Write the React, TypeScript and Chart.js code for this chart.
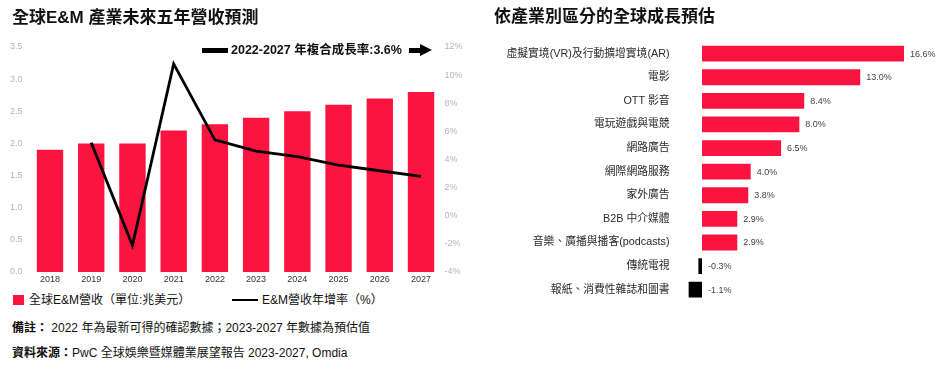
import React, { useEffect, useRef } from "react";
import { Chart, registerables } from "chart.js";

Chart.register(...registerables);

const FONT = '"Liberation Sans", "Noto Sans CJK TC", sans-serif';
const RED = "#fc1440";

// Left chart data
const years = ["2018", "2019", "2020", "2021", "2022", "2023", "2024", "2025", "2026", "2027"];
const revenue = [1.9, 2.0, 2.0, 2.2, 2.3, 2.4, 2.5, 2.6, 2.7, 2.8];
const growth = [null, 5.2, -2.1, 10.8, 5.4, 4.6, 4.2, 3.6, 3.2, 2.8];
const revenueTicksMax = 3.5;
const growthTicksMin = -4;
const growthTicksMax = 12;

// Right chart data
const industries = [
  "虛擬實境(VR)及行動擴增實境(AR)",
  "電影",
  "OTT 影音",
  "電玩遊戲與電競",
  "網路廣告",
  "網際網路服務",
  "家外廣告",
  "B2B 中介媒體",
  "音樂、廣播與播客(podcasts)",
  "傳統電視",
  "報紙、消費性雜誌和圖書",
];
const industryGrowth = [16.6, 13.0, 8.4, 8.0, 6.5, 4.0, 3.8, 2.9, 2.9, -0.3, -1.1];

function LeftChart() {
  const ref = useRef<HTMLCanvasElement>(null);
  useEffect(() => {
    const chart = new Chart(ref.current!, {
      type: "bar",
      data: {
        labels: years,
        datasets: [
          {
            type: "line",
            label: "E&M營收年增率(%)",
            data: growth as any,
            yAxisID: "y2",
            borderColor: "#000",
            borderWidth: 2.8,
            pointRadius: 0,
            tension: 0,
            spanGaps: false,
            order: 0,
          } as any,
          {
            type: "bar",
            label: "全球E&M營收(單位:兆美元)",
            data: revenue,
            yAxisID: "y",
            backgroundColor: RED,
            barPercentage: 0.64,
            categoryPercentage: 1,
            order: 1,
          },
        ],
      },
      options: {
        animation: false,
        responsive: false,
        layout: { padding: { top: 47, left: 0, right: 0, bottom: 0 } },
        plugins: { legend: { display: false }, tooltip: { enabled: false } },
        scales: {
          x: {
            grid: { display: false, drawTicks: false },
            border: { display: false },
            ticks: { color: "#333", font: { family: FONT, size: 9 }, padding: 2, maxRotation: 0 },
            afterFit: (s: any) => { s.height = 18; },
          },
          y: {
            position: "left",
            min: 0,
            max: revenueTicksMax,
            grid: { display: false, drawTicks: false },
            border: { display: false },
            ticks: {
              stepSize: 0.5,
              color: "#b5b5b5",
              padding: 7,
              font: { family: FONT, size: 9 },
              callback: (v: any) => Number(v).toFixed(1),
            },
            afterFit: (s: any) => { s.width = 29.4; },
          },
          y2: {
            position: "right",
            min: growthTicksMin,
            max: growthTicksMax,
            grid: { display: false, drawTicks: false },
            border: { display: false },
            ticks: {
              stepSize: 2,
              color: "#b5b5b5",
              padding: 3,
              font: { family: FONT, size: 9 },
              callback: (v: any) => `${v}%`,
            },
            afterFit: (s: any) => { s.width = 28.4; },
          },
        },
      },
    });
    return () => chart.destroy();
  }, []);
  return <canvas ref={ref} width={470} height={290} style={{ position: "absolute", left: 0, top: 0, width: 470, height: 290 }} />;
}

const valueLabelPlugin = {
  id: "valueLabels",
  afterDatasetsDraw(chart: any) {
    const ctx = chart.ctx;
    const meta = chart.getDatasetMeta(0);
    const xScale = chart.scales.x;
    const zero = xScale.getPixelForValue(0);
    ctx.save();
    ctx.font = `9px ${FONT}`;
    ctx.fillStyle = "#444";
    ctx.textBaseline = "middle";
    ctx.textAlign = "left";
    meta.data.forEach((bar: any, i: number) => {
      const v = industryGrowth[i];
      const end = Math.max(bar.x, zero);
      ctx.fillText(`${v.toFixed(1)}%`, end + 6, bar.y + 0.5);
    });
    ctx.restore();
  },
};

function RightChart() {
  const ref = useRef<HTMLCanvasElement>(null);
  useEffect(() => {
    const chart = new Chart(ref.current!, {
      type: "bar",
      data: {
        labels: industries,
        datasets: [
          {
            label: "成長預估",
            data: industryGrowth,
            backgroundColor: industryGrowth.map((v) => (v < 0 ? "#000" : RED)),
            barPercentage: 0.67,
            categoryPercentage: 1,
          },
        ],
      },
      options: {
        indexAxis: "y",
        animation: false,
        responsive: false,
        layout: { padding: { top: 41.8, bottom: 5.7, left: 0, right: 7.8 } },
        plugins: { legend: { display: false }, tooltip: { enabled: false } },
        scales: {
          x: { display: false, min: -2.5, max: 19 },
          y: {
            grid: { display: false, drawTicks: false },
            border: { display: false },
            ticks: { color: "#2a2a2a", padding: 2, font: { family: FONT, size: 10.8 } },
            afterFit: (s: any) => { s.width = 201.6; },
          },
        },
      },
      plugins: [valueLabelPlugin],
    });
    return () => chart.destroy();
  }, []);
  return <canvas ref={ref} width={471} height={310} style={{ position: "absolute", left: 470, top: 0, width: 471, height: 310 }} />;
}

export default function App() {
  const titleStyle: React.CSSProperties = {
    position: "absolute",
    fontFamily: FONT,
    fontWeight: 700,
    fontSize: 17,
    color: "#111",
    whiteSpace: "nowrap",
    lineHeight: "20px",
  };
  const smallText: React.CSSProperties = {
    position: "absolute",
    fontFamily: FONT,
    color: "#111",
    whiteSpace: "nowrap",
  };
  return (
    <div style={{ position: "fixed", left: 0, top: 0, width: 941, height: 373, background: "#fff", overflow: "hidden" }}>
      <LeftChart />
      <RightChart />
      <div style={{ ...titleStyle, left: 12, top: 8 }}>全球E&amp;M 產業未來五年營收預測</div>
      <div style={{ ...titleStyle, left: 494, top: 7 }}>依產業別區分的全球成長預估</div>

      {/* CAGR annotation */}
      <div style={{ position: "absolute", left: 202, top: 48, width: 26, height: 5, background: "#000" }} />
      <div style={{ ...smallText, left: 231, top: 42, fontSize: 12.5, fontWeight: 700, lineHeight: "16px" }}>
        2022-2027 年複合成長率:3.6%
      </div>
      <div style={{ position: "absolute", left: 409, top: 48, width: 12, height: 5, background: "#000" }} />
      <div
        style={{
          position: "absolute",
          left: 420,
          top: 44,
          width: 0,
          height: 0,
          borderTop: "6.5px solid transparent",
          borderBottom: "6.5px solid transparent",
          borderLeft: "12px solid #000",
        }}
      />

      {/* Legend */}
      <div style={{ position: "absolute", left: 13, top: 295, width: 11, height: 10, background: RED }} />
      <div style={{ ...smallText, left: 29, top: 292, fontSize: 12, lineHeight: "16px" }}>全球E&amp;M營收（單位:兆美元）</div>
      <div style={{ position: "absolute", left: 232, top: 298.5, width: 26, height: 2.8, background: "#000" }} />
      <div style={{ ...smallText, left: 262, top: 292, fontSize: 12, lineHeight: "16px" }}>E&amp;M營收年增率（%）</div>

      {/* Notes */}
      <div style={{ ...smallText, left: 12, top: 320, fontSize: 12, lineHeight: "16px" }}>
        <b>備註：</b> 2022 年為最新可得的確認數據；2023-2027 年數據為預估值
      </div>
      <div style={{ ...smallText, left: 12, top: 345, fontSize: 12, lineHeight: "16px" }}>
        <b>資料來源：</b>PwC 全球娛樂暨媒體業展望報告 2023-2027, Omdia
      </div>
    </div>
  );
}
